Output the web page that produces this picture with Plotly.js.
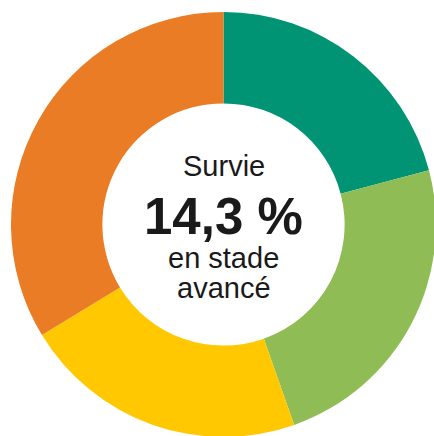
<!DOCTYPE html>
<html>
<head>
<meta charset="utf-8">
<script src="https://cdn.plot.ly/plotly-3.0.1.min.js"></script>
<style>
html, body { margin: 0; padding: 0; overflow: hidden; background: #fff; }
#chart { width: 436px; height: 437px; }
</style>
</head>
<body>
<div id="chart"></div>
<script>
const categories = ["Teal", "Green", "Yellow", "Orange"];
const values = [20.9, 23.7, 21.7, 33.7];
const colors = ["#009474", "#8fbc55", "#ffc800", "#e97c24"];
const centerLines = ["Survie", "14,3 %", "en stade", "avancé"];

const W = 436, H = 437, ML = 11, MT = 12;
const plotH = H - MT;
function py(p) { return (H - p) / plotH; }

const font = "Liberation Sans, Arial, Helvetica, sans-serif";
const annotations = [
  { text: centerLines[0], y: py(166), size: 29, bold: false },
  { text: centerLines[1], y: py(216), size: 51, bold: true },
  { text: centerLines[2], y: py(258), size: 29, bold: false },
  { text: centerLines[3], y: py(288), size: 29, bold: false }
].map(a => ({
  text: a.bold ? "<b>" + a.text + "</b>" : a.text,
  xref: "paper", yref: "paper", x: 0.5, y: a.y,
  xanchor: "center", yanchor: "middle", showarrow: false,
  font: { family: font, size: a.size, color: "#1a1a1a" }
}));

Plotly.newPlot("chart", [{
  type: "pie",
  labels: categories,
  values: values,
  hole: 0.57,
  sort: false,
  direction: "clockwise",
  rotation: 0,
  marker: { colors: colors, line: { width: 0 } },
  textinfo: "none",
  hoverinfo: "none",
  showlegend: false
}], {
  width: W, height: H,
  margin: { l: ML, r: 0, t: MT, b: 0, pad: 0 },
  paper_bgcolor: "#ffffff",
  showlegend: false,
  annotations: annotations
}, { staticPlot: true, displayModeBar: false });
</script>
</body>
</html>
